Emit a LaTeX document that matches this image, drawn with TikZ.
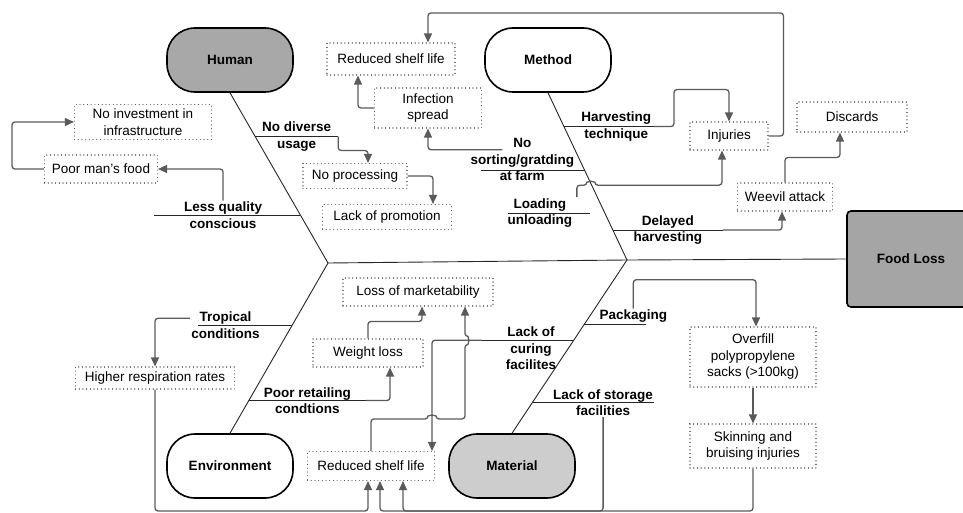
\documentclass[tikz,border=0pt]{standalone}
\usepackage{fontspec}
\setmainfont{Liberation Sans}
\usetikzlibrary{arrows.meta,calc}

\definecolor{linegray}{HTML}{5A5A5A}
\definecolor{humgray}{HTML}{A8A8A8}
\definecolor{matgray}{HTML}{CDCDCD}
\definecolor{lossgray}{HTML}{A5A5A5}
\newcommand\diagsize{\fontsize{13.5}{16.5}\selectfont}

\tikzset{
  cat/.style={draw=black, line width=1.6pt, rounded corners=28pt, minimum width=126pt, minimum height=64pt, font=\diagsize\bfseries},
  headbox/.style={draw=black, line width=1.6pt, rounded corners=4pt, fill=lossgray, minimum width=128pt, minimum height=96pt, font=\diagsize\bfseries},
  effect/.style 2 args={draw=linegray, fill=white, line width=1.1pt, line cap=round, dash pattern=on 0.1pt off 3.6pt, minimum width=#1, minimum height=#2, align=center, inner sep=2pt, font=\diagsize},
  lab/.style={font=\diagsize\bfseries, align=center, inner sep=1pt},
  bone/.style={draw=black!85, line width=0.9pt},
  conn/.style={draw=linegray, line width=1.3pt, rounded corners=3pt, -{Triangle[length=9pt,width=8pt]}},
}

\begin{document}
\begin{tikzpicture}[x=1pt, y=-1pt]
\useasboundingbox (0,0) rectangle (963,513);

\node[cat, fill=humgray] (human) at (230,60) {Human};
\node[cat] (method) at (548,60) {Method};
\node[cat] (env) at (230,466) {Environment};
\node[cat, fill=matgray] (material) at (512,466) {Material};
\node[headbox] (loss) at (911,259) {Food Loss};

\coordinate (hj) at (328,263);
\coordinate (mj) at (627,260);
\coordinate (base) at (0,511);
\draw[bone] (human.south) -- (hj) -- (env.north);
\draw[bone] (method.south) -- (mj) -- (material.north);
\draw[bone] (hj) -- (mj) -- (loss.west);

\node[effect={104pt}{25pt}] (proc) at (355,176) {No processing};
\node[effect={129pt}{25pt}] (promo) at (387,217) {Lack of promotion};
\node[effect={113pt}{28pt}] (poor) at (101,169) {Poor man's food};
\node[effect={137pt}{35pt}] (invest) at (143,122) {No investment in\\infrastructure};
\node[effect={128pt}{32pt}] (shelfA) at (391,59) {Reduced shelf life};
\node[effect={107pt}{40pt}] (infect) at (428,108) {Infection\\spread};
\node[effect={78pt}{28pt}] (injur) at (729,136) {Injuries};
\node[effect={95pt}{28pt}] (weevil) at (785,197) {Weevil attack};
\node[effect={110pt}{30pt}] (disc) at (852,117) {Discards};
\node[effect={159pt}{22pt}] (resp) at (155,378) {Higher respiration rates};
\node[effect={110pt}{28pt}] (wloss) at (368,353) {Weight loss};
\node[effect={150pt}{28pt}] (market) at (418,292) {Loss of marketability};
\node[effect={127pt}{29pt}] (shelfB) at (371,466) {Reduced shelf life};
\node[effect={126pt}{60pt}] (over) at (753,357) {Overfill\\polypropylene\\sacks (>100kg)};
\node[effect={126pt}{44pt}] (skin) at (753,446) {Skinning and\\bruising injuries};

\draw[bone] ($(human.south)!0.257!(hj)$) -- ++(83,0) node[lab, midway] (ldiv) {No diverse\\usage} coordinate (ediv);
\draw[conn] (ediv) -- ++(0,14) -| ([xshift=13pt]proc.north);
\draw[conn] (proc.east) -| ([xshift=46pt]promo.north);
\draw[bone] ($(human.south)!0.719!(hj)$) -- ++(-146,0) node[lab, pos=0.53] (lqual) {Less quality\\conscious};
\draw[conn] (lqual.north) |- (poor.east);
\draw[conn] (poor.west) -- ++(-32,0) |- (invest.west);

\draw[bone] ($(method.south)!0.202!(mj)$) -- ++(90,0) node[lab, pos=0.58] (lharv) {Harvesting\\technique} coordinate (eharv);
\draw[conn] (eharv) -- ++(20,0) -- ++(0,-37) -| (injur.north);
\draw[conn] (injur.east) -- ++(15,0) -- ++(0,-123) -| ([xshift=37pt]shelfA.north);
\draw[conn] (infect.west) -| ([xshift=-33pt]shelfA.south);
\draw[bone] ($(method.south)!0.464!(mj)$) -- ++(-104,0) node[lab, pos=0.6, yshift=10.5pt] (lsort) {No\\sorting/gratding\\at farm};
\draw[conn] ([shift={(-20,12.5)}]lsort.north) -| (infect.south);
\draw[bone] ($(method.south)!0.72!(mj)+(-15,0)$) -- ++(-82,0) node[lab, pos=0.61] (lload) {Loading\\unloading};
\draw[conn] ([xshift=37pt]lload.north) -- ++(0,-12) -- ++(10,0) arc[start angle=180, end angle=0, radius=4pt] -| ([xshift=-7pt]injur.south);
\draw[bone] ($(method.south)!0.821!(mj)$) -- ++(110,0) node[lab, midway] (ldelay) {Delayed\\harvesting} coordinate (edelay);
\draw[conn] (edelay) -| ([xshift=-3pt]weevil.south);
\draw[conn] (weevil.north) -- ++(0,-25) -| ([xshift=-12pt]disc.south);

\draw[bone] ($(env.north)!0.634!(hj)$) -- ++(-94,0) node[lab, pos=0.71] (ltrop) {Tropical\\conditions};
\draw[conn] ([yshift=7pt]ltrop.west) -| (resp.north);
\draw[conn] (resp.south) -- (resp.south |- base) -| ([xshift=-3pt]shelfB.south);
\draw[bone] ($(env.north)!0.192!(hj)$) -- ++(117,0) node[lab, midway] (lretail) {Poor retailing\\condtions} coordinate (eretail);
\draw[conn] (eretail) -| ([xshift=22pt]wloss.south);
\draw[conn] (wloss.north) -- ++(0,-17) -| ([xshift=4pt]market.south);
\draw[conn] (shelfB.north) -- ++(0,-32) -- ++(57,0) arc[start angle=180, end angle=0, radius=4pt] -- ++(29,0) -- ++(0,-74.5) arc[start angle=-90, end angle=90, radius=4pt] -- ([xshift=47pt]market.south);

\draw[bone] ($(material.north)!0.629!(mj)$) -- ++(62,0) node[lab, above, pos=0.79] (lpack) {Packaging};
\draw[conn] (lpack.north) -- ++(0,-29) -| ([xshift=3pt]over.north);
\draw[bone] ($(material.north)!0.537!(mj)$) -- ++(-92,0) node[lab, pos=0.465, yshift=-8pt] (lcure) {Lack of\\curing\\facilites} coordinate (ecure);
\draw[conn] (ecure) -| ([xshift=61pt]shelfB.north);
\draw[bone] ($(material.north)!0.177!(mj)$) -- ++(122,0) node[lab, pos=0.58] (lstore) {Lack of storage\\facilities};
\draw[conn] (lstore.south) -- (lstore.south |- base) -| ([xshift=32pt]shelfB.south);
\draw[conn] (over.south) -- (skin.north);
\draw[conn] (skin.south) -- (skin.south |- base) -| ([xshift=9pt]shelfB.south);
\end{tikzpicture}
\end{document}
